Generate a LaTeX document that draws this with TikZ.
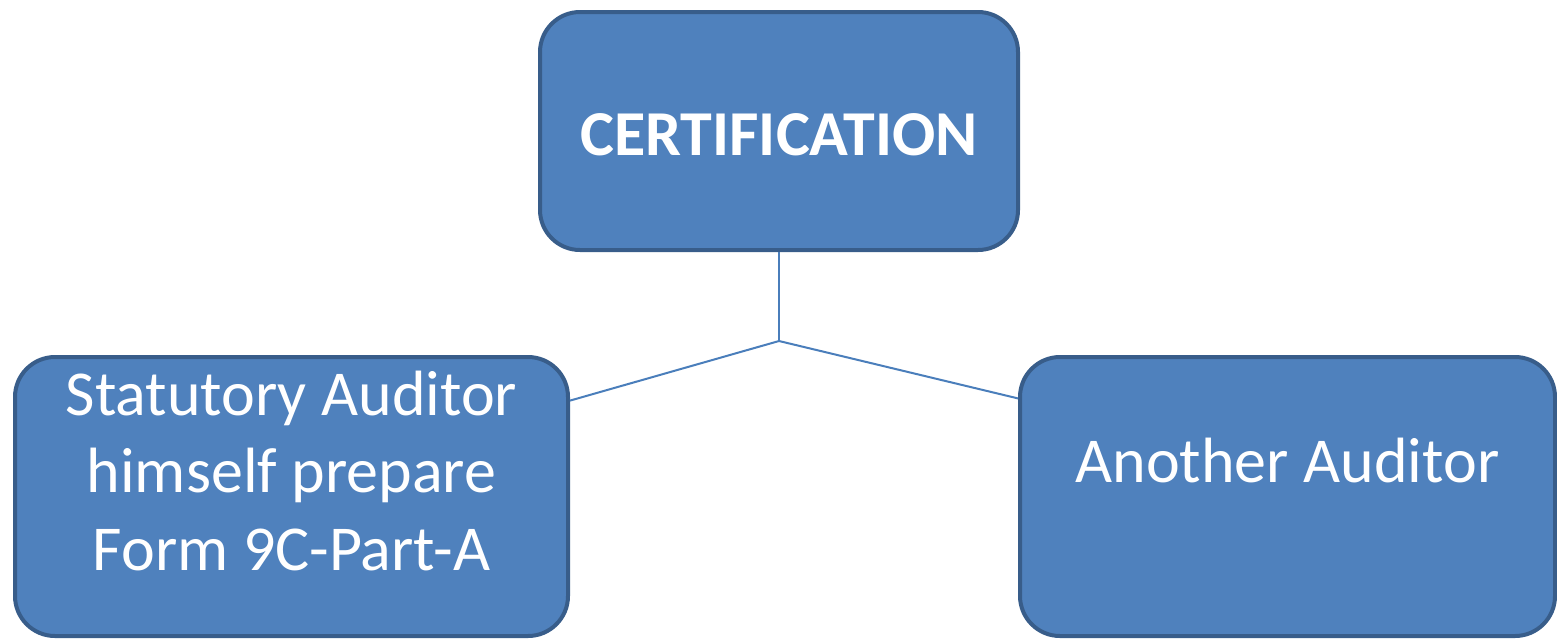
\documentclass[tikz,border=0pt]{standalone}
\usepackage{fontspec}
\setmainfont{Carlito}
\usetikzlibrary{calc}
\definecolor{boxfill}{HTML}{4F81BD}
\definecolor{boxline}{HTML}{385D8A}
\definecolor{linkline}{HTML}{4A7EBB}

\begin{document}
\begin{tikzpicture}[x=1pt,y=-1pt,
    box/.style={draw=boxline, fill=boxfill, line width=4pt, rounded corners=40pt,
      text=white, align=center, inner sep=0pt,
      font=\fontsize{64}{77.5}\selectfont},
    link/.style={draw=linkline, line width=2pt}]
        \useasboundingbox (0,0) rectangle (1557,641);

        % Boxes
        \node[box, minimum width=478pt, minimum height=238pt,
          text height=48pt, text depth=0pt] (cert) at (779,131)
          {\bfseries CERTIFICATION};
        \node[box, minimum width=553pt, minimum height=279pt,
          text height=200pt, text depth=53pt] (self) at (291.5,496.5)
          {Statutory Auditor\\himself prepare\\Form 9C-Part-A};
        \node[box, minimum width=535pt, minimum height=279pt,
          text height=40pt, text depth=69pt] (other) at (1287.5,496.5)
          {Another Auditor};

        % Connectors
        \coordinate (J) at (779,341);
        \draw[link] (cert.south) -- (J);
        \draw[link] (J) -- (self.19);
        \draw[link] (J) -- (other.160);

    \end{tikzpicture}
\end{document}
